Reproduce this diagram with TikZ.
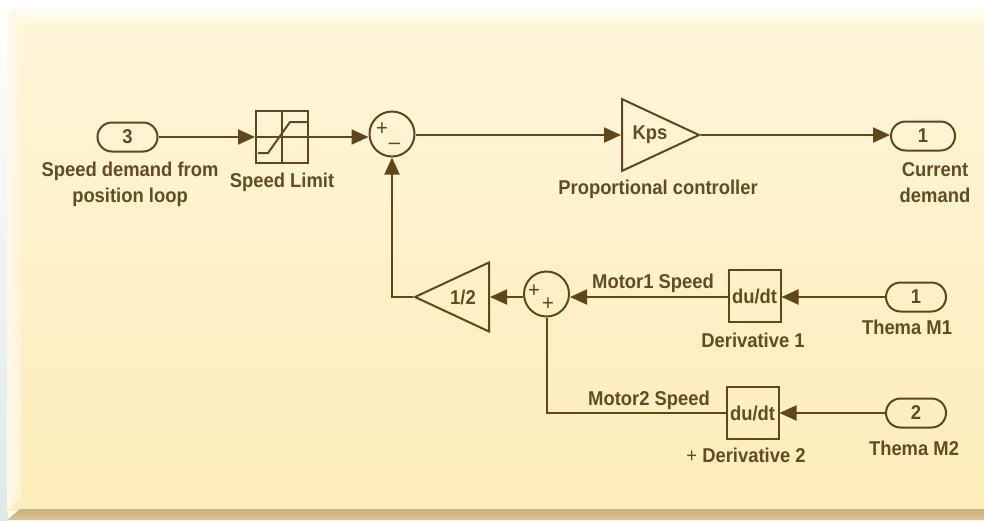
\documentclass[tikz,border=0pt]{standalone}
\usepackage{fontspec}
\setmainfont[FakeStretch=0.92]{Liberation Sans}
\usetikzlibrary{arrows.meta,calc,shapes.geometric,shapes.misc}
\definecolor{ink}{HTML}{5F4719}
\definecolor{txt}{HTML}{634B22}
\definecolor{pTop}{HTML}{FFF6DA}
\definecolor{pBot}{HTML}{FDEDBA}
\definecolor{bandA}{HTML}{C8B07C}
\definecolor{bandB}{HTML}{DCC690}
\definecolor{edgeB}{HTML}{DFE9E5}
\tikzset{
  x=1pt,y=-1pt,
  wire/.style={draw=ink,line width=2pt},
  flow/.style={wire,-{Triangle[length=17pt,width=15pt]}},
  port/.style={draw=ink,line width=2pt,rounded rectangle,minimum width=60pt,minimum height=29pt,inner sep=0pt,text=txt,font=\fontsize{20}{22}\selectfont\bfseries},
  blockbox/.style={draw=ink,line width=2pt,rectangle,minimum width=52pt,minimum height=52pt,inner sep=0pt,text=txt,font=\fontsize{20}{22}\selectfont\bfseries},
  sumring/.style={draw=ink,line width=2pt,circle,minimum size=45pt,inner sep=0pt},
  lab/.style={text=txt,inner sep=0pt,align=center,font=\fontsize{20}{26}\selectfont\bfseries},
  sign/.style={text=ink,inner sep=0pt,font=\fontsize{22}{22}\selectfont},
  gainlabel/.style={text=txt,inner sep=0pt,font=\fontsize{20}{22}\selectfont\bfseries},
  gaintri/.style={draw=ink,line width=2pt,isosceles triangle,isosceles triangle apex angle=50,inner sep=0pt},
}
\begin{document}
\begin{tikzpicture}
\useasboundingbox (0,0) rectangle (984,520);
% background
\shade[top color=white,bottom color=edgeB] (0,0) rectangle (8,520);
\fill[white] (0,0) rectangle (984,8);
\shade[top color=pTop,bottom color=pBot] (7,8) rectangle (984,510);
\shade[top color=white!70!pTop,bottom color=pTop] (7,8) rectangle (984,24);
\shade[left color=white!70!pTop,right color=pTop,opacity=.75] (7,8) -- (21,22) -- (21,498) -- (7,510) -- cycle;
\shade[top color=bandA,bottom color=bandB] (7,520) -- (20,509) -- (984,509) -- (984,520) -- cycle;
% blocks
\node[port] (in3) at (127.5,137) {3};
\node[blockbox] (sat) at (282,137) {};
\node[sumring] (sumA) at (392,134) {};
\node[gaintri,minimum height=77pt,anchor=west] (kps) at (621,135) {};
\node[gainlabel] (kpstext) at (650,135) {Kps};
\node[port,minimum width=64pt] (out1) at (923,136) {1};
\node[gaintri,shape border rotate=180,minimum height=74pt,anchor=east] (half) at (490,297) {};
\node[gainlabel] (halftext) at (463,297) {1/2};
\node[sumring] (sumB) at (546.5,294) {};
\node[blockbox] (d1) at (754.5,296) {du/dt};
\node[blockbox] (d2) at (752.5,413) {du/dt};
\node[port] (m1) at (916,297) {1};
\node[port] (m2) at (916,413) {2};
% saturation glyph
\draw[wire] (sat.north) -- (sat.south) (sat.west) -- (sat.east);
\draw[wire] ($(sat.center)+(-24,16)$) -- ++(10,0) -- ($(sat.center)+(8,-15)$) -- ++(17,0);
% signs
\node[sign] (sa1) at (382,129) {+};
\node[sign] (sa2) at (394.5,146) {–};
\node[sign] (sb1) at (534,291) {+};
\node[sign] (sb2) at (548,304) {+};
% connectors
\draw[flow] (in3.east) -- (sat.west);
\draw[flow] (sat.east) -- (sat.east -| sumA.west);
\draw[flow] (sumA.east |- kps.west) -- (kps.west);
\draw[flow] (kps.apex) -- (out1.west |- kps.apex);
\draw[flow] (half.apex) -| (sumA.south);
\draw[flow] (m1.west) -- (d1.east |- m1.west);
\draw[flow] (d1.west |- m1.west) -- (sumB.east |- m1.west);
\draw[flow] (sumB.west |- half.apex) -- (half.east);
\draw[flow] (m2.west) -- (d2.east |- m2.west);
\draw[wire] (d2.west) -| (sumB.south);
% labels
\node[lab] (l1) at (130,184) {Speed demand from\\position loop};
\node[lab] (l2) at (282,182) {Speed Limit};
\node[lab] (l3) at (658,189) {Proportional controller};
\node[lab] (l4) at (935,183) {Current\\demand};
\node[lab] (l5) at (653,283) {Motor1 Speed};
\node[lab] (l6) at (649,400) {Motor2 Speed};
\node[lab] (l7) at (753,340) {Derivative 1};
\node[lab] (l8) at (746,455) {{\mdseries +} Derivative 2};
\node[lab] (l9) at (907,327) {Thema M1};
\node[lab] (l10) at (914,448) {Thema M2};
\end{tikzpicture}
\end{document}
